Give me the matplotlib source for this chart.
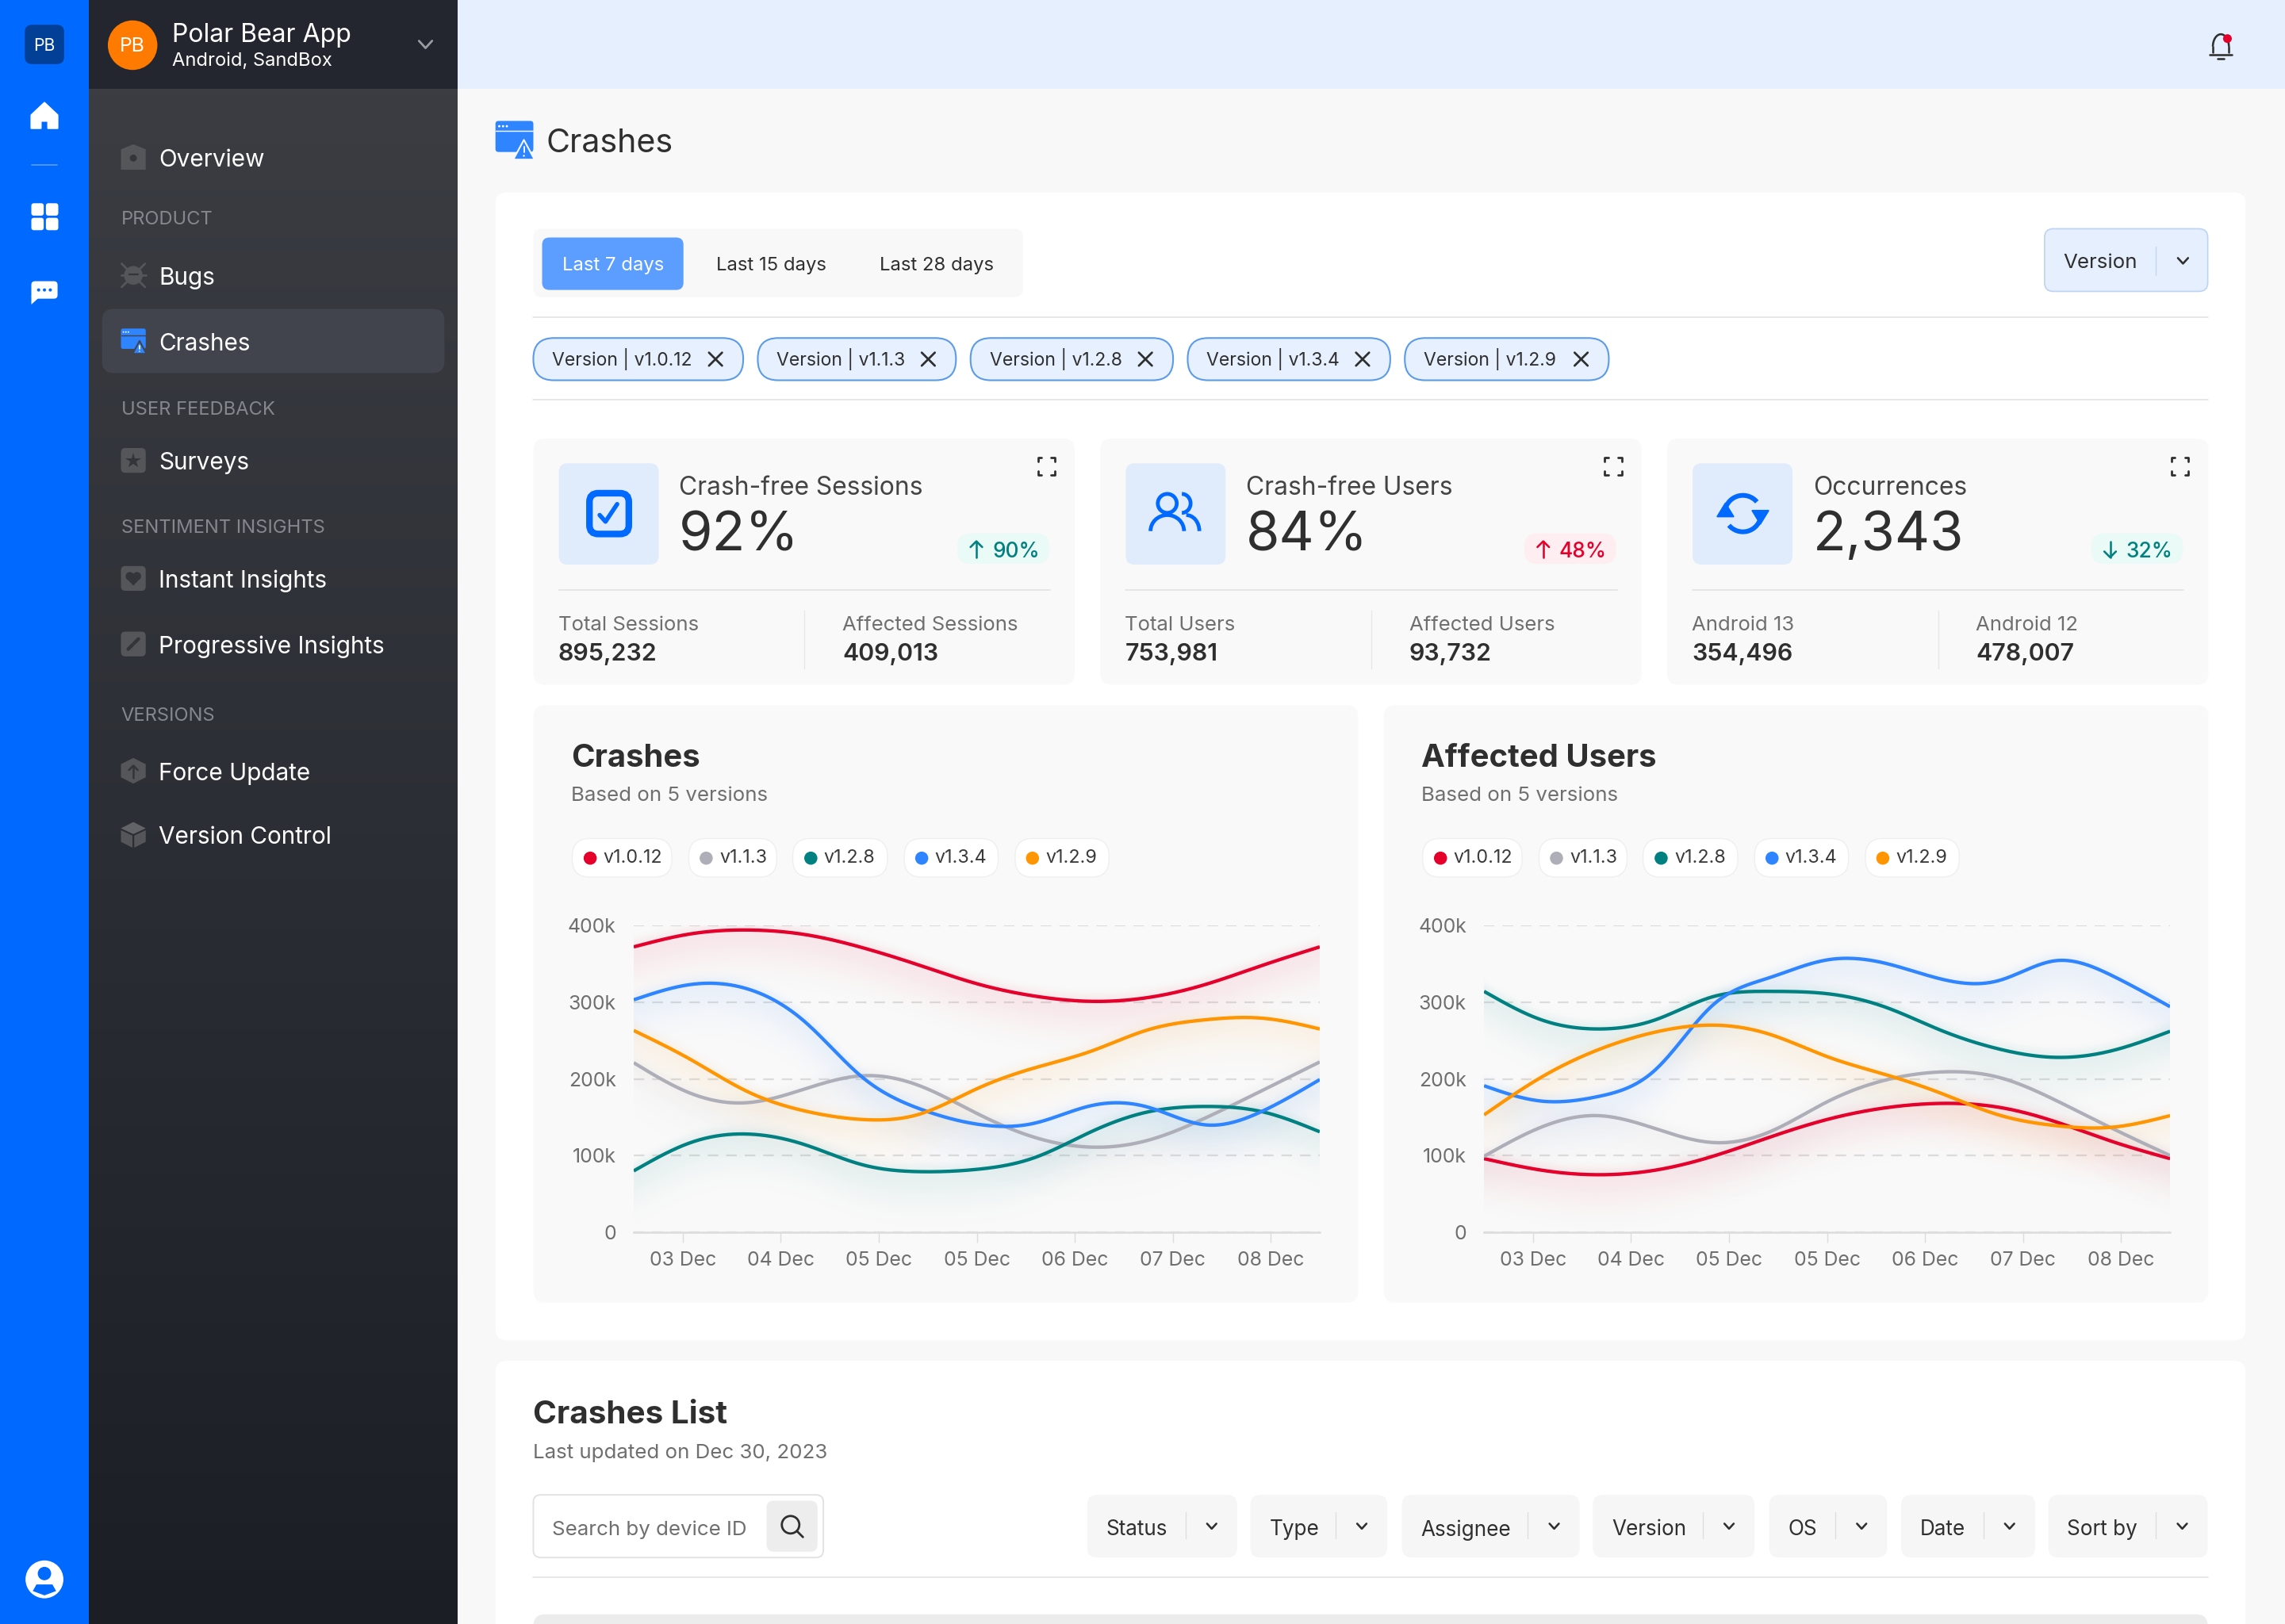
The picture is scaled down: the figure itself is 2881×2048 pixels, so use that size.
import numpy as np
import matplotlib
matplotlib.use("Agg")
import matplotlib.pyplot as plt
from matplotlib.colors import to_rgb
from matplotlib.patches import FancyBboxPatch, Circle, Polygon, Rectangle, Arc

plt.rcParams['font.family'] = ['Inter', 'DejaVu Sans']

# ---------- data ----------
VERSIONS = ['v1.0.12', 'v1.1.3', 'v1.2.8', 'v1.3.4', 'v1.2.9']
DAYS = ['03 Dec', '04 Dec', '05 Dec', '05 Dec', '06 Dec', '07 Dec', '08 Dec']
Y_TICKS = [0, 100, 200, 300, 400]
Y_LABELS = ['0', '100k', '200k', '300k', '400k']

crash_v1012 = [372, 389, 394, 388, 371, 348, 324, 308, 301, 306, 323, 348, 372]
crash_v113 = [221, 181, 169, 187, 204, 191, 155, 124, 111, 120, 149, 185, 222]
crash_v128 = [80, 117, 128, 114, 88, 79, 82, 97, 131, 157, 164, 157, 131]
crash_v134 = [303, 323, 317, 274, 202, 161, 141, 142, 165, 163, 140, 158, 199]
crash_v129 = [263, 225, 183, 158, 147, 154, 187, 214, 236, 264, 277, 279, 265]

users_v1012 = [96, 81, 75, 81, 99, 124, 147, 162, 168, 163, 144, 118, 96]
users_v113 = [99, 137, 152, 135, 117, 131, 170, 198, 209, 202, 172, 135, 100]
users_v128 = [314, 277, 265, 277, 307, 314, 311, 294, 263, 239, 228, 237, 262]
users_v134 = [191, 171, 177, 212, 296, 332, 355, 351, 330, 328, 354, 334, 294]
users_v129 = [153, 202, 238, 261, 270, 258, 229, 206, 181, 153, 139, 137, 152]

CRASH_SERIES = [crash_v1012, crash_v113, crash_v128, crash_v134, crash_v129]
USER_SERIES = [users_v1012, users_v113, users_v128, users_v134, users_v129]

NAV_ITEMS = [('Overview', 108), ('Bugs', 189), ('Crashes', 234), ('Surveys', 316),
             ('Instant Insights', 397), ('Progressive Insights', 442),
             ('Force Update', 529), ('Version Control', 573)]
NAV_HEADS = [('PRODUCT', 149), ('USER FEEDBACK', 280), ('SENTIMENT INSIGHTS', 361), ('VERSIONS', 490)]
CHIPS = [('Version | v1.0.12', 366, 510), ('Version | v1.1.3', 520, 656), ('Version | v1.2.8', 666, 805),
         ('Version | v1.3.4', 815, 954), ('Version | v1.2.9', 964, 1104)]
STATS = [
    (366, 'Crash-free Sessions', '92%', 'up', '90%', 'Total Sessions', '895,232', 'Affected Sessions', '409,013'),
    (755, 'Crash-free Users', '84%', 'upr', '48%', 'Total Users', '753,981', 'Affected Users', '93,732'),
    (1144, 'Occurrences', '2,343', 'down', '32%', 'Android 13', '354,496', 'Android 12', '478,007'),
]
FILTERS = [('Status', 746, 849), ('Type', 858, 952), ('Assignee', 962, 1084), ('Version', 1093, 1204),
           ('OS', 1214, 1295), ('Date', 1304.6, 1396.5), ('Sort by', 1405.6, 1515)]

COLORS = ['#e4002b', '#aeaeb8', '#008080', '#2e85ff', '#ff9500']
DARK = '#2f2f2f'
GRAY = '#6f6f6f'
BLUE = '#0069ff'

# ---------- canvas ----------
PW, PH = 2881, 2048
OW = 1568.0
S = PW / OW
OH = PH / S
fig = plt.figure(figsize=(PW / 100, PH / 100), dpi=100, facecolor='#f8f8f8')
bg = fig.add_axes([0, 0, 1, 1])
bg.axis('off')


def fs(n):
    return n * S * 0.72


def T(x, y, s, size=14, color=DARK, ha='left', weight='normal', va='center'):
    return bg.text(x, y + 1.2 + 0.065 * size - 2.0 + 2.0, s, fontsize=fs(size), color=color, ha=ha, va=va, weight=weight)


def R(x0, y0, x1, y1, fc, r=6, ec='none', lw=0, z=1):
    w, h = x1 - x0, y1 - y0
    r = min(r, w / 2, h / 2)
    p = FancyBboxPatch((x0 + r, y0 + r), w - 2 * r, h - 2 * r,
                       boxstyle=f'round,pad={r},rounding_size={r}',
                       fc=fc, ec=ec, lw=lw, zorder=z)
    bg.add_patch(p)
    return p


def L(xs, ys, c=DARK, lw=1.5, z=3):
    bg.plot(xs, ys, color=c, lw=lw * S * 0.72, solid_capstyle='round', solid_joinstyle='round', zorder=z)


def G(pts, fc, z=4, ec='none', lw=0):
    bg.add_patch(Polygon(pts, closed=True, fc=fc, ec=ec, lw=lw, zorder=z, joinstyle='round'))


def chevron(x, y, c=DARK, s=3.5, lw=1.4):
    L([x - s, x, x + s], [y - s * 0.55, y + s * 0.55, y - s * 0.55], c, lw)


def crash_icon(x, y, s, notch):
    R(x, y, x + s, y + s * 0.82, '#2e85ff', r=s * 0.08, z=3)
    L([x, x + s], [y + s * 0.27, y + s * 0.27], notch, 0.8, 4)
    for k in (0.1, 0.2, 0.3):
        bg.add_patch(Circle((x + s * k, y + s * 0.14), s * 0.03, fc='white', zorder=4))
    G([[x + s * .75, y + s * .5], [x + s * 1.03, y + s * 1.02], [x + s * .47, y + s * 1.02]], '#2e85ff', 5, notch, 1.5)
    L([x + s * .75, x + s * .75], [y + s * .68, y + s * .82], 'white', 1.0, 6)
    bg.add_patch(Circle((x + s * .75, y + s * .92), s * 0.025, fc='white', zorder=6))


FILL = '#55565a'
INK = '#33353b'


def nav_icon(name, y):
    cx, x0, x1, y0, y1 = 91.5, 83, 100, y - 8.5, y + 8.5
    if name == 'Overview':
        G([[x0, y0 + 3], [cx, y0 - 0.5], [x1, y0 + 3], [x1, y1], [x0, y1]], FILL, 3)
        bg.add_patch(Circle((cx, y + 0.5), 2.4, fc=INK, zorder=4))
    elif name == 'Bugs':
        bg.add_patch(Circle((cx, y), 6.4, fc=FILL, zorder=3))
        for sx in (-1, 1):
            L([cx + sx * 4, cx + sx * 8], [y - 4, y - 8], FILL, 1.5, 3)
            L([cx + sx * 4, cx + sx * 8], [y + 4, y + 8], FILL, 1.5, 3)
            L([cx + sx * 5, cx + sx * 8.5], [y, y], FILL, 1.5, 3)
        L([cx - 3, cx + 3], [y - 0.5, y - 0.5], INK, 1.2, 4)
    elif name == 'Surveys':
        R(x0, y0, x1, y1, FILL, r=3, z=3)
        bg.plot([cx], [y], marker='*', ms=8 * S * .72 * 1.4, color=INK, mew=0, zorder=4)
    elif name == 'Instant Insights':
        R(x0, y0, x1, y1, FILL, r=3, z=3)
        bg.add_patch(Circle((cx - 2.4, y - 1.5), 2.9, fc=INK, zorder=4))
        bg.add_patch(Circle((cx + 2.4, y - 1.5), 2.9, fc=INK, zorder=4))
        G([[cx - 5.2, y - 0.6], [cx + 5.2, y - 0.6], [cx, y + 5]], INK, 4)
    elif name == 'Progressive Insights':
        R(x0, y0, x1, y1, FILL, r=3, z=3)
        L([cx - 3.5, cx - 0.5], [y + 3.5, y + 0.5], INK, 2.4, 4)
        L([cx + 0.5, cx + 3.5], [y - 0.5, y - 3.5], INK, 2.4, 4)
    elif name == 'Force Update':
        G([[cx, y0 - 0.3], [x1, y - 4.5], [x1, y + 4.5], [cx, y1 + 0.3], [x0, y + 4.5], [x0, y - 4.5]], FILL, 3)
        L([cx, cx], [y - 3.5, y + 5], INK, 1.4, 4)
        L([cx - 3, cx, cx + 3], [y - 0.5, y - 3.5, y - 0.5], INK, 1.4, 4)
    elif name == 'Version Control':
        G([[cx, y0 - 0.3], [x1, y - 4.5], [cx, y - 0.5], [x0, y - 4.5]], '#626367', 3)
        G([[x0, y - 3.2], [cx - 0.6, y + 0.5], [cx - 0.6, y1 + 0.3], [x0, y + 4.8]], FILL, 3)
        G([[x1, y - 3.2], [cx + 0.6, y + 0.5], [cx + 0.6, y1 + 0.3], [x1, y + 4.8]], FILL, 3)


# backgrounds
bg.add_patch(Rectangle((0, 0), 61, OH, fc=BLUE, zorder=1))
grad = np.linspace(0, 1, 256)[:, None, None]
top = np.array([0x3b, 0x3d, 0x43]) / 255
bot = np.array([0x1c, 0x1e, 0x26]) / 255
bg.imshow(top + (bot - top) * grad, extent=(61, 314, OH, 61), aspect='auto', zorder=1)
bg.add_patch(Rectangle((61, 0), 253, 61, fc='#23262e', zorder=2))
bg.add_patch(Rectangle((314, 0), OW - 314, 61, fc='#e6effd', zorder=1))

# rail
R(17, 17, 44, 44, '#023f96', r=5, z=2)
T(30.5, 29.5, 'PB', 11.5, '#ffffff', 'center')
G([[21.5, 79], [30.5, 70.5], [39.5, 79], [39.5, 88], [33, 88], [33, 83], [28, 83], [28, 88], [21.5, 88]], 'white', 3, 'white', 1.5)
L([22, 39], [113, 113], '#5c9eff', 0.9)
for gx, gy in [(21.5, 139.5), (31.5, 139.5), (21.5, 149.5), (31.5, 149.5)]:
    R(gx, gy, gx + 8.5, gy + 8.5, 'white', r=1.8, z=3)
R(21.5, 193, 39.5, 205, 'white', r=2.5, z=3)
G([[21.5, 203], [21.5, 209], [27, 204]], 'white', 3)
for dx in (26.5, 30.5, 34.5):
    bg.add_patch(Circle((dx, 199), 1.1, fc=BLUE, zorder=4))
bg.add_patch(Circle((30.5, 1084), 13, fc='white', zorder=3))
bg.add_patch(Circle((30.5, 1080), 4.6, fc=BLUE, zorder=4))
G([[22.5, 1092], [25, 1087.5], [36, 1087.5], [38.5, 1092], [30.5, 1095]], BLUE, 4)

# sidebar header
bg.add_patch(Circle((91, 31), 17, fc='#ff7a00', zorder=3))
T(91, 30, 'PB', 13.5, 'white', 'center')
T(118, 22, 'Polar Bear App', 17.4, 'white')
T(118, 40, 'Android, SandBox', 12.9, 'white')
chevron(292, 30.5, '#9a9ca2', 4.5, 1.5)

# sidebar
R(70, 212, 305, 256, '#41444c', r=8, z=2)
for name, y in NAV_ITEMS:
    T(109, y - 0.3, name, 16.2, 'white')
    if name == 'Crashes':
        crash_icon(83, y - 8.5, 17, '#41444c')
    else:
        nav_icon(name, y)
for name, y in NAV_HEADS:
    T(83, y - 0.5, name, 12.9, '#85878f')

# top bar bell
bg.add_patch(Arc((1524, 32), 11, 17, theta1=180, theta2=360, ec=DARK, lw=1.4 * S * .72, zorder=3))
L([1518.5, 1518.5], [32, 36], DARK, 1.4)
L([1529.5, 1529.5], [32, 36], DARK, 1.4)
L([1516.5, 1531.5], [37.5, 37.5], DARK, 1.4)
L([1522, 1526], [40.5, 40.5], DARK, 1.4)
bg.add_patch(Circle((1528.5, 26.5), 3, fc='#e4002b', zorder=4))

# page title
crash_icon(340, 83, 26, '#f8f8f8')
T(374.5, 96, 'Crashes', 22.4, DARK)

# main cards
R(340, 132, 1541, 920, 'white', r=8)
R(340, 934, 1541, OH + 30, 'white', r=8)

# segmented control
R(366, 157, 702, 204, '#f8f8f8', r=6, z=2)
R(372, 163, 469, 199, '#5c9eff', r=5, z=3)
T(421, 180.5, 'Last 7 days', 13, 'white', 'center')
T(529, 180.5, 'Last 15 days', 13, DARK, 'center')
T(643, 180.5, 'Last 28 days', 13, DARK, 'center')

R(1403, 157, 1515, 200, '#e6effd', r=6, ec='#bcd3f5', lw=1.2, z=2)
T(1416, 178.5, 'Version', 14.1, DARK)
L([1479.5, 1479.5], [169, 189], '#c6d6ee', 0.8)
chevron(1498, 179, DARK, 3.5)

L([366, 1515], [217.5, 217.5], '#e3e3e3', 0.9)
L([366, 1515], [274.5, 274.5], '#e3e3e3', 0.9)

for label, x0, x1 in CHIPS:
    R(x0, 232, x1, 261, '#e6f0ff', r=14, ec='#5b9be8', lw=1.5, z=2)
    T(x0 + 13, 244.3, label, 12.5, DARK)
    cx = x1 - 19
    L([cx - 4.5, cx + 4.5], [242, 251], DARK, 1.5)
    L([cx - 4.5, cx + 4.5], [251, 242], DARK, 1.5)

# stat cards
for x, title, value, kind, delta, l1, v1, l2, v2 in STATS:
    R(x, 301, x + 371.5, 470, '#f9f9f9', r=8, z=2)
    R(x + 17.5, 318, x + 86, 387.5, '#e0ebfc', r=6, z=3)
    cx, cy = x + 52, 352.5
    W2 = 2.6 * S * .72
    if kind == 'up':
        R(cx - 13.5, cy - 14, cx + 13.5, cy + 14, 'none', r=6, ec=BLUE, lw=6, z=4)
        L([cx - 6.5, cx - 2.5, cx + 5.5], [cy + 1, cy + 5.5, cy - 6.5], BLUE, 3, 5)
    elif kind == 'upr':
        bg.add_patch(Circle((cx - 6, cy - 7), 6.5, fc='none', ec=BLUE, lw=W2, zorder=4))
        bg.add_patch(Arc((cx - 6, cy + 12), 23, 22, theta1=180, theta2=360, ec=BLUE, lw=W2, zorder=4))
        bg.add_patch(Arc((cx + 4, cy - 7), 12, 13, theta1=-90, theta2=90, ec=BLUE, lw=W2, zorder=4))
        bg.add_patch(Arc((cx + 7, cy + 12), 18, 22, theta1=270, theta2=360, ec=BLUE, lw=W2, zorder=4))
    else:
        bg.add_patch(Arc((cx, cy), 25, 25, theta1=-165, theta2=-40, ec=BLUE, lw=W2 * 1.25, zorder=4))
        bg.add_patch(Arc((cx, cy), 25, 25, theta1=15, theta2=140, ec=BLUE, lw=W2 * 1.25, zorder=4))
        G([[cx - 17.5, cy + 2], [cx - 12, cy - 7], [cx - 6.5, cy + 2]], BLUE, 4, BLUE, 1.5)
        G([[cx + 6.5, cy - 2], [cx + 12, cy + 7], [cx + 17.5, cy - 2]], BLUE, 4, BLUE, 1.5)
    T(x + 100, 332.5, title, 17.3, '#444444')
    T(x + 100, 364.5, value, 37.3, DARK)
    # expand icon
    ex, ey, e, m = x + 352, 320, 5.8, 2.4
    for sx in (-1, 1):
        for sy in (-1, 1):
            L([ex + sx * e, ex + sx * e, ex + sx * (e - m)], [ey + sy * (e - m), ey + sy * e, ey + sy * e], DARK, 1.5, 4)
    # delta badge
    tint = '#ffeef1' if kind == 'upr' else '#eafaf7'
    tc = '#e4002b' if kind == 'upr' else '#008080'
    R(x + 291, 366, x + 354, 387, tint, r=9, z=3)
    ax_ = x + 304
    L([ax_, ax_], [371.5, 382.5], tc, 1.4, 4)
    if kind == 'down':
        L([ax_ - 4, ax_, ax_ + 4], [378.5, 382.5, 378.5], tc, 1.4, 4)
    else:
        L([ax_ - 4, ax_, ax_ + 4], [375.5, 371.5, 375.5], tc, 1.4, 4)
    T(x + 315, 376.5, delta, 14.3, tc, weight='medium')
    L([x + 17.5, x + 354.5], [405, 405], '#e3e3e3', 0.9, 3)
    T(x + 17, 427, l1, 14, GRAY)
    T(x + 17, 447, v1, 16.5, DARK, weight='semibold')
    L([x + 186, x + 186], [419, 459], '#e6e6e6', 0.7, 3)
    T(x + 212, 427, l2, 14, GRAY)
    T(x + 212, 447, v2, 16.5, DARK, weight='semibold')

# chart cards
PILLS = [(392.7, 461, 405), (472.6, 533, 484.6), (544, 609, 556.4), (620.5, 685, 632.5), (696.6, 761, 708.5)]


def smooth(t, values, tt):
    n = len(t)
    h = np.diff(t)
    A = np.zeros((n, n))
    b = np.zeros(n)
    A[0, 0] = A[-1, -1] = 1
    y = np.asarray(values, float)
    for i in range(1, n - 1):
        A[i, i - 1], A[i, i], A[i, i + 1] = h[i - 1], 2 * (h[i - 1] + h[i]), h[i]
        b[i] = 6 * ((y[i + 1] - y[i]) / h[i] - (y[i] - y[i - 1]) / h[i - 1])
    m = np.linalg.solve(A, b)
    j = np.clip(np.searchsorted(t, tt) - 1, 0, n - 2)
    a = (t[j + 1] - tt) / h[j]
    c = (tt - t[j]) / h[j]
    return a * y[j] + c * y[j + 1] + ((a ** 3 - a) * m[j] + (c ** 3 - c) * m[j + 1]) * h[j] ** 2 / 6


def chart(card_x, title, series):
    off = card_x - 366
    R(card_x, 484, card_x + 566, 894, '#f9f9f9', r=8, z=2)
    T(card_x + 26, 518, title, 21.8, DARK, weight='bold')
    T(card_x + 26, 544, 'Based on 5 versions', 14.1, GRAY)
    for (x0, x1, dx), name, col in zip(PILLS, VERSIONS, COLORS):
        R(x0 + off, 575.5, x1 + off, 602, 'white', r=12, ec='#efefef', lw=1, z=3)
        bg.add_patch(Circle((dx + off, 589), 4.5, fc=col, zorder=4))
        T(dx + off + 9, 587, name, 12.7, '#3a3a3a')
    # plot area in figure fractions
    x0, x1 = (799 + off * S) / PW, (1664 + off * S) / PW
    y0, y1 = 1 - 1554 / PH, 1 - 1167 / PH
    ax = fig.add_axes([x0, y0, x1 - x0, y1 - y0], facecolor='none', zorder=5)
    t = np.linspace(-0.5, 6.5, 13)
    tt = np.linspace(-0.5, 6.5, 500)
    ax.set_axisbelow(True)
    ax.set_yticks(Y_TICKS, Y_LABELS)
    ax.set_xticks(range(len(DAYS)), DAYS)
    ax.grid(axis='y', color='#dcdcdc', lw=1.6, dashes=(6, 4.5))
    ax.grid(axis='x', visible=False)
    for s_ in ('top', 'left', 'right'):
        ax.spines[s_].set_visible(False)
    ax.spines['bottom'].set_color('#dcdcdc')
    ax.spines['bottom'].set_linewidth(1.8)
    ax.tick_params(axis='y', length=0, pad=16, labelsize=fs(13.5), labelcolor='#6f6f6f')
    ax.tick_params(axis='x', length=9, width=1, color='#dcdcdc', pad=8, labelsize=fs(13.5), labelcolor='#6f6f6f')
    curves = [smooth(t, v, tt) for v in series]
    yy = np.linspace(0, 400, 400)[:, None]
    for cv, col in zip(curves, COLORS):
        d = cv[None, :] - yy          # distance below the line, in value units
        prof = np.where(d > 0, np.exp(-(d / 42.0) ** 2), np.exp(-(d / 10.0) ** 2))
        img = np.zeros((400, 500, 4))
        img[..., :3] = to_rgb(col)
        img[..., 3] = 0.075 * prof
        ax.imshow(img, extent=(-0.5, 6.5, 0, 400), origin='lower', aspect='auto', zorder=1, interpolation='bilinear')
    for cv, col in zip(curves, COLORS):
        ax.plot(tt, cv, color=col, lw=3.1, zorder=3, clip_on=True, solid_capstyle='butt')
    ax.set_xlim(-0.5, 6.5)
    ax.set_ylim(0, 400)
    return ax


chart(366, 'Crashes', CRASH_SERIES)
chart(949.5, 'Affected Users', USER_SERIES)

# crashes list
T(366, 968.5, 'Crashes List', 22, DARK, weight='bold')
T(366, 995, 'Last updated on Dec 30, 2023', 14.1, GRAY)
R(366, 1026, 565, 1069, 'white', r=5, ec='#e2e2e2', lw=1.4, z=2)
T(379, 1048, 'Search by device ID', 14.1, GRAY)
R(526, 1030, 561, 1065, '#ededed', r=5, z=3)
bg.add_patch(Circle((542.5, 1046.5), 6, fc='none', ec=DARK, lw=1.5 * S * .72, zorder=4))
L([547, 551], [1051, 1055], DARK, 1.5, 4)
for name, x0, x1 in FILTERS:
    R(x0, 1026, x1, 1069, '#f6f6f6', r=7, z=2)
    T(x0 + 13, 1048, name, 14.2, DARK)
    L([x1 - 35.5, x1 - 35.5], [1038, 1056], '#dddddd', 0.7)
    chevron(x1 - 17.5, 1047.5, DARK, 3.2)
L([366, 1515], [1082.5, 1082.5], '#e3e3e3', 0.9)
R(366, 1108, 1515, OH + 30, '#ececec', r=8, z=2)

bg.set_xlim(0, OW)
bg.set_ylim(OH, 0)
fig.savefig('out.png', dpi=100, facecolor=fig.get_facecolor())
